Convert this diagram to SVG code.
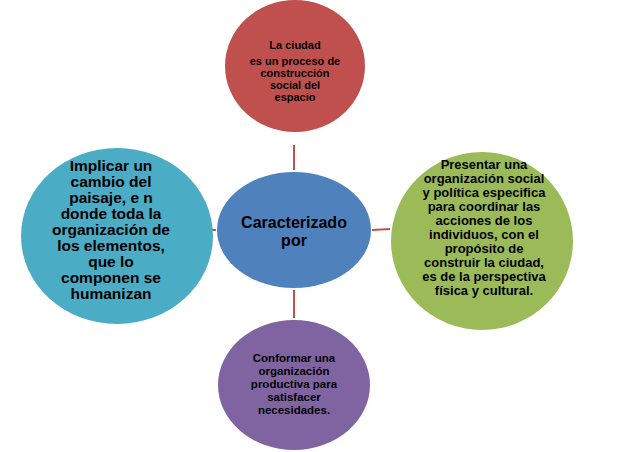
<svg xmlns="http://www.w3.org/2000/svg" width="640" height="452" viewBox="0 0 640 452">
<style>
text{font-family:"Liberation Sans",Arial,sans-serif;font-weight:bold;fill:#000;text-anchor:middle}
.s{font-size:11px}.b{font-size:11.5px}.m{font-size:13px}.l{font-size:16px}.k{font-size:15.5px}
.c{stroke:#c0504d;stroke-width:2;fill:none}
</style>
<rect width="640" height="452" fill="#fff"/>
<g id="connectors">
<line class="c" x1="294" y1="145" x2="294" y2="170"/>
<line class="c" x1="372" y1="230" x2="390" y2="229"/>
<line class="c" x1="200" y1="230" x2="216" y2="230"/>
<line class="c" x1="294" y1="290" x2="294" y2="318"/>
</g>
<g id="top"><ellipse cx="295" cy="66" rx="70" ry="66" fill="#c0504d"/>
<text class="s" x="295" y="49">La ciudad</text>
<text class="s" x="295" y="65">es un proceso de</text>
<text class="s" x="295" y="77">construcción</text>
<text class="s" x="295" y="89">social  del</text>
<text class="s" x="295" y="101">espacio</text></g>
<g id="center"><ellipse cx="294" cy="230" rx="77" ry="58" fill="#4f81bd"/>
<text class="l" x="294" y="228">Caracterizado</text>
<text class="l" x="294" y="246">por</text></g>
<g id="right"><ellipse cx="482" cy="241" rx="91" ry="89" fill="#9bbb59"/>
<text class="m" x="484" y="169">Presentar una</text>
<text class="m" x="484" y="183">organización social</text>
<text class="m" x="484" y="197">y política especifica</text>
<text class="m" x="484" y="211">para coordinar las</text>
<text class="m" x="484" y="225">acciones de los</text>
<text class="m" x="484" y="239">individuos, con el</text>
<text class="m" x="484" y="253">propósito de</text>
<text class="m" x="484" y="267">construir la ciudad,</text>
<text class="m" x="484" y="281">es de la perspectiva</text>
<text class="m" x="484" y="295">física y cultural.</text></g>
<g id="left"><ellipse cx="117" cy="236" rx="96" ry="88" fill="#4bacc6"/>
<text class="k" x="111" y="171">Implicar un</text>
<text class="k" x="111" y="187">cambio del</text>
<text class="k" x="111" y="203">paisaje, e n</text>
<text class="k" x="111" y="219">donde toda la</text>
<text class="k" x="111" y="235">organización de</text>
<text class="k" x="111" y="251">los elementos,</text>
<text class="k" x="111" y="267">que lo</text>
<text class="k" x="111" y="283">componen se</text>
<text class="k" x="111" y="299">humanizan</text></g>
<g id="bottom"><ellipse cx="294" cy="385" rx="76" ry="65" fill="#8064a2"/>
<text class="b" x="294" y="362">Conformar una</text>
<text class="b" x="294" y="375">organización</text>
<text class="b" x="294" y="388">productiva para</text>
<text class="b" x="294" y="401">satisfacer</text>
<text class="b" x="294" y="414">necesidades.</text></g>
</svg>
